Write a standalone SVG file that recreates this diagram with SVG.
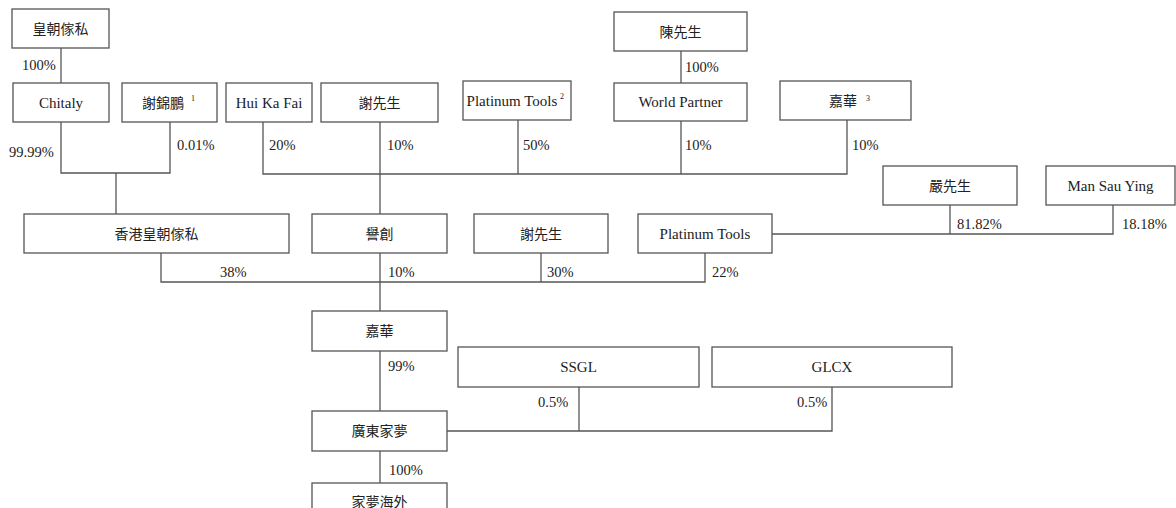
<svg xmlns="http://www.w3.org/2000/svg" width="1176" height="508" viewBox="0 0 1176 508">
<style>
.box{fill:#fff;stroke:#555;stroke-width:1.3}
.t{font-family:"Liberation Serif","Noto Sans CJK TC",serif;font-size:15px;fill:#222;text-anchor:middle}
.c{font-family:"Liberation Serif","Noto Sans CJK TC",serif;font-size:14px;fill:#222;text-anchor:middle}
.p{font-family:"Liberation Serif",serif;font-size:14.5px;fill:#222}
.s{font-family:"Liberation Serif",serif;font-size:8px;fill:#222}
.ln{fill:none;stroke:#555;stroke-width:1.3}
</style>
<rect width="1176" height="508" fill="#fff"/>
<g id="connectors">
<path class="ln" d="M61,48V83"/>
<path class="ln" d="M681,51V83"/>
<path class="ln" d="M61,122V173H170V122"/>
<path class="ln" d="M116,173V214"/>
<path class="ln" d="M263,122V174H847V120"/>
<path class="ln" d="M380,122V214"/>
<path class="ln" d="M518,120V174"/>
<path class="ln" d="M681,121V174"/>
<path class="ln" d="M772,234H1113V205"/>
<path class="ln" d="M950,205V234"/>
<path class="ln" d="M161,253V282H705V253"/>
<path class="ln" d="M541,253V282"/>
<path class="ln" d="M380,253V311"/>
<path class="ln" d="M380,351V411"/>
<path class="ln" d="M447,431H832V387"/>
<path class="ln" d="M579,387V431"/>
<path class="ln" d="M380,451V483"/>
</g>
<g id="labels">
<text class="p" x="22" y="70">100%</text>
<text class="p" x="9" y="157">99.99%</text>
<text class="p" x="177" y="150">0.01%</text>
<text class="p" x="269" y="150">20%</text>
<text class="p" x="387" y="150">10%</text>
<text class="p" x="523" y="150">50%</text>
<text class="p" x="685" y="72">100%</text>
<text class="p" x="685" y="150">10%</text>
<text class="p" x="852" y="150">10%</text>
<text class="p" x="957" y="229">81.82%</text>
<text class="p" x="1122" y="229">18.18%</text>
<text class="p" x="220" y="277">38%</text>
<text class="p" x="388" y="277">10%</text>
<text class="p" x="547" y="277">30%</text>
<text class="p" x="712" y="277">22%</text>
<text class="p" x="388" y="371">99%</text>
<text class="p" x="538" y="407">0.5%</text>
<text class="p" x="797" y="407">0.5%</text>
<text class="p" x="389" y="475">100%</text>
</g>
<g id="n_huangchao"><rect class="box" x="12" y="9" width="97" height="39"/><text class="c" x="60.5" y="33.5">皇朝傢私</text></g>
<g id="n_chitaly"><rect class="box" x="13" y="83" width="96" height="39"/><text class="t" x="61" y="107.5">Chitaly</text></g>
<g id="n_xiejinpeng"><rect class="box" x="122" y="83" width="95" height="39"/><text class="c" x="163" y="107.5">謝錦鵬</text><text class="s" x="191" y="101">1</text></g>
<g id="n_huikafai"><rect class="box" x="226" y="83" width="86" height="39"/><text class="t" x="269" y="107.5">Hui Ka Fai</text></g>
<g id="n_xie_top"><rect class="box" x="321" y="83" width="117" height="39"/><text class="c" x="379.5" y="107.5">謝先生</text></g>
<g id="n_platinum_top"><rect class="box" x="463" y="81" width="108" height="39"/><text class="t" x="512" y="105.5">Platinum Tools</text><text class="s" x="560" y="99">2</text></g>
<g id="n_chen"><rect class="box" x="614" y="12" width="133" height="39"/><text class="c" x="680.5" y="36.5">陳先生</text></g>
<g id="n_worldpartner"><rect class="box" x="614" y="83" width="133" height="38"/><text class="t" x="680.5" y="107">World Partner</text></g>
<g id="n_jiahua_top"><rect class="box" x="780" y="81" width="131" height="39"/><text class="c" x="843" y="105.5">嘉華</text><text class="s" x="866" y="101">3</text></g>
<g id="n_yan"><rect class="box" x="883" y="166" width="134" height="39"/><text class="c" x="950" y="190.5">嚴先生</text></g>
<g id="n_mansauying"><rect class="box" x="1046" y="166" width="129" height="39"/><text class="t" x="1110.5" y="190.5">Man Sau Ying</text></g>
<g id="n_hk_huangchao"><rect class="box" x="24" y="214" width="265" height="39"/><text class="c" x="156.5" y="238.5">香港皇朝傢私</text></g>
<g id="n_yuchuang"><rect class="box" x="312" y="214" width="135" height="39"/><text class="c" x="379.5" y="238.5">譽創</text></g>
<g id="n_xie_mid"><rect class="box" x="474" y="214" width="134" height="39"/><text class="c" x="541" y="238.5">謝先生</text></g>
<g id="n_platinum_mid"><rect class="box" x="638" y="214" width="134" height="39"/><text class="t" x="705" y="238.5">Platinum Tools</text></g>
<g id="n_jiahua"><rect class="box" x="312" y="311" width="135" height="40"/><text class="c" x="379.5" y="335.5">嘉華</text></g>
<g id="n_ssgl"><rect class="box" x="458" y="347" width="241" height="40"/><text class="t" x="578.5" y="372">SSGL</text></g>
<g id="n_glcx"><rect class="box" x="712" y="347" width="240" height="40"/><text class="t" x="832" y="372">GLCX</text></g>
<g id="n_guangdong"><rect class="box" x="312" y="411" width="135" height="40"/><text class="c" x="379.5" y="436">廣東家夢</text></g>
<g id="n_overseas"><rect class="box" x="312" y="483" width="135" height="40"/><text class="c" x="379.5" y="507">家夢海外</text></g>
</svg>
